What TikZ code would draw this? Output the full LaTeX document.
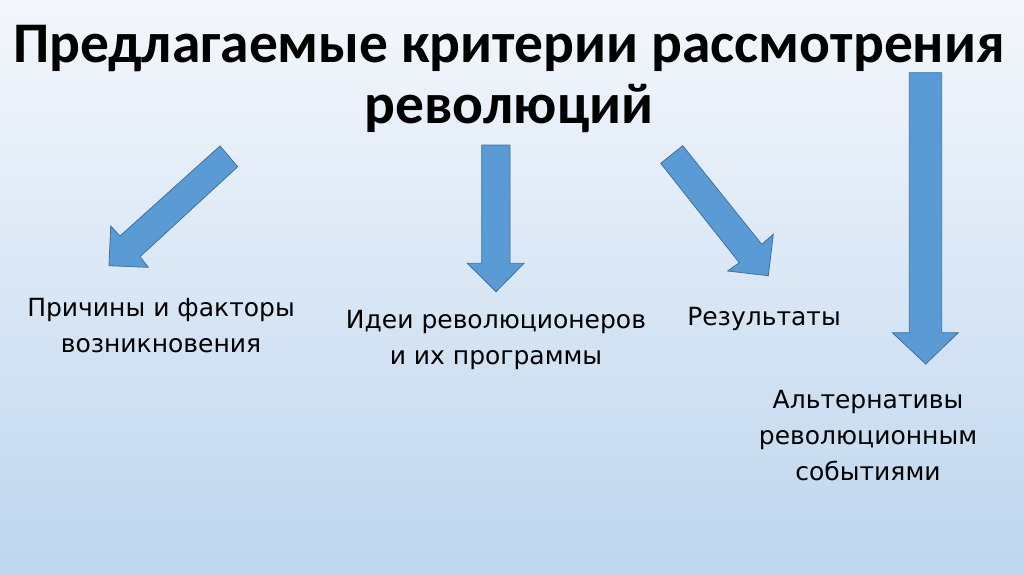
\documentclass[tikz,border=0pt]{standalone}
\usepackage{fontspec}
\setmainfont{Carlito}
\newfontfamily\labelfont{DejaVu Sans}
\usepackage{xcolor}
\usetikzlibrary{positioning}
\definecolor{arrowfill}{HTML}{5B9BD5}
\definecolor{arrowline}{HTML}{41719C}
\definecolor{bgtop}{HTML}{F4F7FC}
\definecolor{bgbottom}{HTML}{BED6EE}
\tikzset{
  titletext/.style={align=center,inner sep=0pt,
    font=\fontsize{57.5}{61}\selectfont\bfseries},
  crittext/.style={align=center,inner sep=0pt,
    font=\labelfont\fontsize{25}{36}\selectfont},
  blockarrow/.style={fill=arrowfill,draw=arrowline,line width=.8pt,line join=miter}
}
\begin{document}
\begin{tikzpicture}[x=1pt,y=-1pt]
\useasboundingbox (0,0) rectangle (1024,574);
\shade[top color=bgtop,bottom color=bgbottom] (0,0) rectangle (1024,574);
% title
\node[titletext,anchor=base] (title) at (509,123) {Предлагаемые критерии рассмотрения\\революций};
% criteria
\node[crittext,anchor=base] (causes) at (161,352) {Причины и факторы\\возникновения};
\node[crittext,anchor=base] (ideas) at (496,364) {Идеи революционеров\\и их программы};
\node[crittext,anchor=base] (results) at (764,325) {Результаты};
\node[crittext,anchor=base] (alternatives) at (868,480) {Альтернативы\\революционным\\событиями};
% arrows
\draw[blockarrow] (220,146) -- (237.7,166.7) -- (140,256.7) -- (148.3,267.3)
  -- (109,265.7) -- (110.7,226) -- (120,236) -- cycle;
\draw[blockarrow] (481.7,145) -- (510,145) -- (510,263.3) -- (524,263.3)
  -- (496,291.7) -- (467.3,263.3) -- (481.7,263.3) -- cycle;
\draw[blockarrow] (660.7,163.3) -- (682.7,145.7) -- (761.7,244.3) -- (773.3,234.3)
  -- (768.3,275.7) -- (727.7,271) -- (739.3,262.7) -- cycle;
\draw[blockarrow] (909.3,72.7) -- (941.7,72.7) -- (941.7,332.7) -- (958.3,332.7)
  -- (925.7,364) -- (892.3,332.7) -- (909.3,332.7) -- cycle;
\end{tikzpicture}
\end{document}
